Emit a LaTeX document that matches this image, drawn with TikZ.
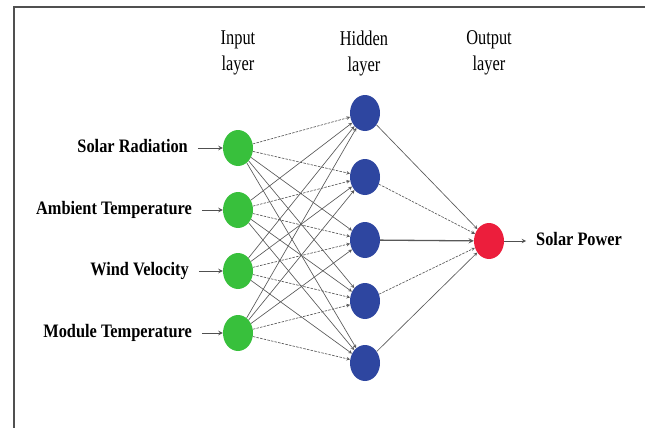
\documentclass[tikz,border=0pt]{standalone}
\usepackage{fontspec}
\setmainfont{Liberation Serif}
\newfontfamily\layerfont[FakeStretch=0.78]{Liberation Serif}
\newfontfamily\featfont[FakeStretch=0.86]{Liberation Serif}
\usetikzlibrary{arrows,positioning,shapes.geometric}

\definecolor{ingreen}{RGB}{56,192,60}
\definecolor{hidblue}{RGB}{46,70,160}
\definecolor{outred}{RGB}{236,30,60}
\definecolor{wirec}{RGB}{88,88,88}
\definecolor{framec}{RGB}{80,80,80}

\tikzset{
    neuron/.style={ellipse, minimum width=30pt, minimum height=36pt, inner sep=0pt},
    feat/.style={font=\featfont\bfseries\fontsize{19}{22}\selectfont, inner sep=0pt,
                 outer xsep=10pt, text height=12pt, text depth=3pt},
    layer/.style={font=\layerfont\fontsize{21}{26}\selectfont, align=center},
    wire/.style={->, >=stealth, draw=wirec, line width=0.65pt},
    dashwire/.style={wire, dash pattern=on 2.5pt off 1.2pt},
    feed/.style={->, >=stealth, draw=framec, line width=1pt}
}

\begin{document}
\begin{tikzpicture}[x=1pt, y=-1pt]
    \useasboundingbox (0,0) rectangle (645,428);
    \draw[framec, line width=1.2pt] (645,7) -- (14,7) -- (14,428);

    % layer titles
    \node[layer] (inlab) at (238,53) {Input\\layer};
    \node[layer] (hidlab) at (364,53) {Hidden\\layer};
    \node[layer] (outlab) at (489,53) {Output\\layer};

    % input layer
    \node[neuron, fill=ingreen] (in1) at (238,148) {};
    \node[neuron, fill=ingreen] (in2) at (238,210) {};
    \node[neuron, fill=ingreen] (in3) at (238,271) {};
    \node[neuron, fill=ingreen] (in4) at (238,333) {};

    % hidden layer
    \node[neuron, fill=hidblue] (h1) at (365,113) {};
    \node[neuron, fill=hidblue] (h2) at (365,177) {};
    \node[neuron, fill=hidblue] (h3) at (365,240) {};
    \node[neuron, fill=hidblue] (h4) at (365,301) {};
    \node[neuron, fill=hidblue] (h5) at (365,363) {};

    % output layer
    \node[neuron, fill=outred] (out) at (489,241) {};

    % inputs and output
    \node[feat, left=25pt of in1] (radiation) {Solar Radiation};
    \node[feat, left=21pt of in2] (ambient) {Ambient Temperature};
    \node[feat, left=24pt of in3] (wind) {Wind Velocity};
    \node[feat, left=21pt of in4] (module) {Module Temperature};
    \node[feat, right=22pt of out] (power) {Solar Power};

    \draw[feed] (radiation) -- (in1);
    \draw[feed] (ambient) -- (in2);
    \draw[feed] (wind) -- (in3);
    \draw[feed] (module) -- (in4);
    \draw[feed] (out) -- (power);

    % input -> hidden
    \foreach \i in {1,...,4}
        \foreach \j in {1,...,5} {
            \pgfmathtruncatemacro\gap{\j-\i}
            \ifnum\gap<0 \draw[wire] (in\i) -- (h\j);
            \else\ifnum\gap>1 \draw[wire] (in\i) -- (h\j);
            \else \draw[dashwire] (in\i) -- (h\j);
            \fi\fi
        }

    % hidden -> output
    \draw[wire] (h1) -- (out);
    \draw[dashwire] (h2) -- (out);
    \draw[wire, line width=1.3pt] (h3) -- (out);
    \draw[dashwire] (h4) -- (out);
    \draw[wire] (h5) -- (out);
\end{tikzpicture}
\end{document}
